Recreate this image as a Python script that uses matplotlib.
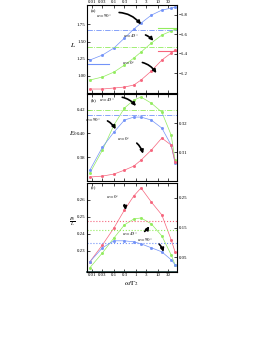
import numpy as np
import matplotlib
matplotlib.use('Agg')
import matplotlib.pyplot as plt

plt.rcParams['font.family'] = ['Liberation Serif', 'DejaVu Serif']
plt.rcParams['mathtext.fontset'] = 'stix'

# x values (omega / Gamma2), log scale
x = [0.008, 0.03, 0.1, 0.3, 0.8, 1.7, 5, 15, 40, 60]
xticks = [0.01, 0.03, 0.1, 0.3, 1, 3, 10, 30]
xticklabels = ['0.01', '0.03', '0.1', '0.3', '1', '3', '10', '30']

# panel (a): L
L_90 = [1.230, 1.303, 1.405, 1.550, 1.681, 1.768, 1.884, 1.957, 1.986, 2.001]
L_45 = [0.939, 0.983, 1.055, 1.157, 1.259, 1.346, 1.477, 1.594, 1.652, 1.681]
L_0 = [0.808, 0.808, 0.823, 0.837, 0.866, 0.939, 1.070, 1.230, 1.332, 1.375]
L_ref90 = 1.666
L_ref45 = 1.419
L_lim90 = 1.172
L_lim45 = 1.695
L_lim0 = 1.361

# panel (b): E0
E_45 = [0.3667, 0.386, 0.407, 0.4213, 0.428, 0.4305, 0.4254, 0.4179, 0.3986, 0.3776]
E_90 = [0.3692, 0.3885, 0.4011, 0.4112, 0.4137, 0.4137, 0.4112, 0.4045, 0.3902, 0.3751]
E_0 = [0.3634, 0.3642, 0.3659, 0.3692, 0.3726, 0.3776, 0.386, 0.3961, 0.3902, 0.3760]
E_ref45 = 0.4196
E_ref90 = 0.4154

# panel (c): E0/L
R_0 = [0.2235, 0.2335, 0.2435, 0.2541, 0.2624, 0.2671, 0.2588, 0.2512, 0.2365, 0.2294]
R_45 = [0.2200, 0.2288, 0.2376, 0.2453, 0.2488, 0.2494, 0.2459, 0.2388, 0.2276, 0.2218]
R_90 = [0.2235, 0.2318, 0.2359, 0.2359, 0.2353, 0.2341, 0.2318, 0.2294, 0.2247, 0.2218]
R_ref0 = 0.2476
R_ref45 = 0.2424
R_ref90 = 0.2347

cb = '#7393f8'
cg = '#92ec5e'
cr = '#f6647c'
fs = 3.5

fig = plt.figure(figsize=(2.73, 3.53), dpi=100)
axa = fig.add_axes([0.319, 0.7365, 0.33, 0.249])
axb = fig.add_axes([0.319, 0.487, 0.33, 0.2465])
axc = fig.add_axes([0.319, 0.2295, 0.33, 0.252])

def base(ax):
    ax.set_xscale('log')
    ax.set_xlim(0.006, 75)
    ax.set_xticks(xticks)
    ax.set_xticklabels(xticklabels)
    ax.minorticks_off()
    ax.tick_params(labelsize=fs, length=2, width=0.5, pad=1, direction='in',
                   top=True)
    for s in ax.spines.values():
        s.set_linewidth(0.6)

def curve(ax, y, c):
    ax.plot(x, y, '-', color=c, lw=0.5, marker='s', ms=1.0)

def arrow(ax, txt, xy, xytext, rad=-0.35):
    ax.annotate(txt, xy=xy, xytext=xytext, fontsize=fs, ha='center', va='center',
                arrowprops=dict(arrowstyle='-|>', color='k', lw=1.2,
                                mutation_scale=5, shrinkA=3, shrinkB=0,
                                connectionstyle='arc3,rad=%s' % rad))

# (a)
base(axa)
axa.tick_params(labeltop=True, labelbottom=False)
curve(axa, L_90, cb)
curve(axa, L_45, cg)
curve(axa, L_0, cr)
axa.axhline(L_ref90, color=cb, ls='-.', lw=0.6)
axa.axhline(L_ref45, color=cg, ls='-.', lw=0.6)
axa.plot([0.006, 0.06], [L_lim90, L_lim90], color=cb, lw=0.8)
axa.plot([10, 75], [L_lim45, L_lim45], color=cg, lw=0.8)
axa.plot([10, 75], [L_lim0, L_lim0], color=cr, lw=0.8)
axa.set_ylim(0.75, 2.03)
axa.set_yticks([1.0, 1.25, 1.5, 1.75])
axa.set_yticklabels(['1.00', '1.25', '1.50', '1.75'])
axa.set_ylabel(r'$L$', fontsize=5, rotation=0, labelpad=3)
axa.text(0.04, 0.95, '(a)', transform=axa.transAxes, fontsize=fs, va='top')
arrow(axa, r'$\alpha = 90°$', (1.7, 1.75), (0.036, 1.885))
arrow(axa, r'$\alpha = 45°$', (6.2, 1.51), (0.58, 1.59))
arrow(axa, r'$\alpha = 0°$', (8.5, 1.04), (0.47, 1.19))
ra = axa.twinx()
ra.set_ylim(-1.0, -1.9)
ra.set_yticks([-1.2, -1.4, -1.6, -1.8])
ra.tick_params(labelsize=fs, length=2, width=0.5, pad=1, direction='in')

# (b)
base(axb)
axb.tick_params(labelbottom=False)
curve(axb, E_45, cg)
curve(axb, E_90, cb)
curve(axb, E_0, cr)
axb.axhline(E_ref45, color=cg, ls='-.', lw=0.6)
axb.axhline(E_ref90, color=cb, ls='-.', lw=0.6)
axb.set_ylim(0.36, 0.433)
axb.set_yticks([0.38, 0.40, 0.42])
axb.set_ylabel(r'$E_0$', fontsize=5, rotation=0, labelpad=3)
axb.text(0.04, 0.95, '(b)', transform=axb.transAxes, fontsize=fs, va='top')
arrow(axb, r'$\alpha = 45°$', (1.0, 0.423), (0.05, 0.429))
arrow(axb, r'$\alpha = 90°$', (0.12, 0.4035), (0.011, 0.412))
arrow(axb, r'$\alpha = 0°$', (2.1, 0.383), (0.28, 0.396))
rb = axb.twinx()
rb.set_ylim(0.30, 0.33)
rb.set_yticks([0.31, 0.32])
rb.tick_params(labelsize=fs, length=2, width=0.5, pad=1, direction='in')

# (c)
base(axc)
curve(axc, R_0, cr)
curve(axc, R_45, cg)
curve(axc, R_90, cb)
axc.axhline(R_ref0, color=cr, ls=':', lw=0.8)
axc.axhline(R_ref45, color=cg, ls=':', lw=0.8)
axc.axhline(R_ref90, color=cb, ls=':', lw=0.8)
axc.set_ylim(0.2175, 0.27)
axc.set_yticks([0.23, 0.24, 0.25, 0.26])
axc.set_ylabel(r'$\frac{E_0}{L}$', fontsize=5, rotation=0, labelpad=3)
axc.set_xlabel(r'$\omega/\Gamma_2$', fontsize=5, labelpad=1)
axc.text(0.04, 0.97, '(c)', transform=axc.transAxes, fontsize=fs, va='top')
arrow(axc, r'$\alpha = 0°$', (0.34, 0.254), (0.085, 0.2618), rad=-0.4)
arrow(axc, r'$\alpha = 45°$', (4.0, 0.2445), (0.55, 0.2405), rad=0.4)
arrow(axc, r'$\alpha = 90°$', (18, 0.2294), (2.6, 0.2365), rad=-0.4)
axc.spines['bottom'].set_linewidth(1.2)
axc.spines['bottom'].set_color('#1f3f3f')
rc = axc.twinx()
rc.set_ylim(0.0, 0.3)
rc.set_yticks([0.05, 0.15, 0.25])
rc.tick_params(labelsize=fs, length=2, width=0.5, pad=1, direction='in')

fig.savefig('out.png', dpi=100)
